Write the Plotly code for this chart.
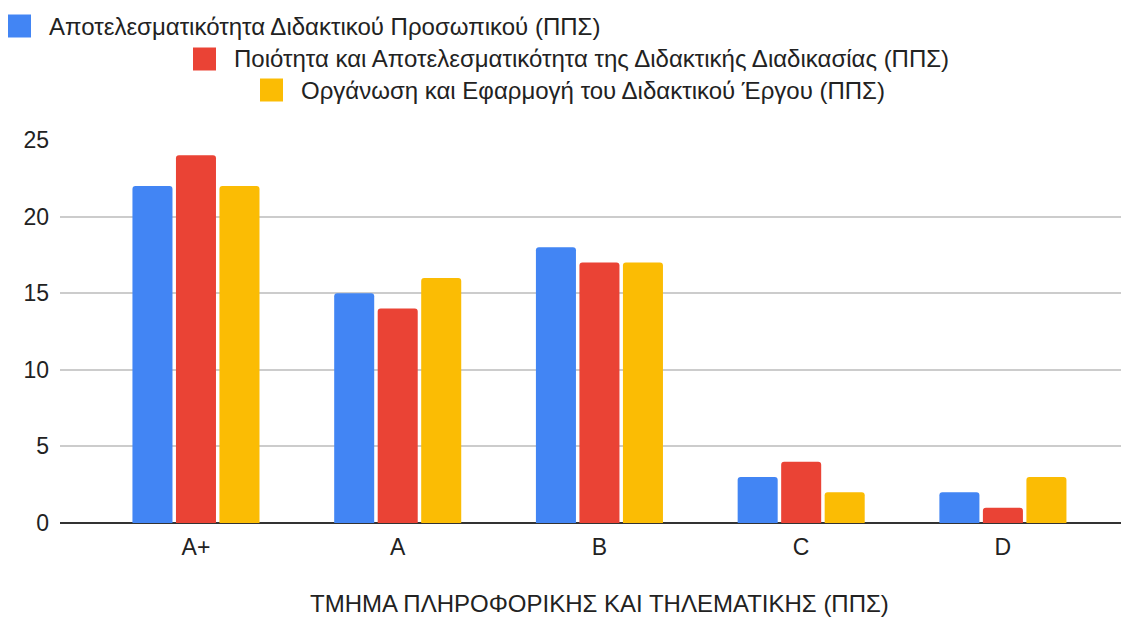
import plotly.graph_objects as go

categories = ["A+", "A", "B", "C", "D"]
series_names = [
    "Αποτελεσματικότητα Διδακτικού Προσωπικού (ΠΠΣ)",
    "Ποιότητα και Αποτελεσματικότητα της Διδακτικής Διαδικασίας (ΠΠΣ)",
    "Οργάνωση και Εφαρμογή του Διδακτικού Έργου (ΠΠΣ)",
]
blue_values = [22, 15, 18, 3, 2]
red_values = [24, 14, 17, 4, 1]
yellow_values = [22, 16, 17, 2, 3]
y_ticks = [0, 5, 10, 15, 20, 25]
x_title = "ΤΜΗΜΑ ΠΛΗΡΟΦΟΡΙΚΗΣ ΚΑΙ ΤΗΛΕΜΑΤΙΚΗΣ (ΠΠΣ)"

colors = ["#4285F4", "#EA4335", "#FBBC04"]
values = [blue_values, red_values, yellow_values]

# page body has an 8px margin, so the figure is 8px smaller than the window
W, H = 1121, 609
ML, MR, MT, MB = 52, 0, 132, 94
PW, PH = W - ML - MR, H - MT - MB
FONT = "Liberation Sans, Arial, sans-serif"
TXT = "#222222"

def px_x(px):
    return (px - ML) / PW

def px_y(py):
    return (H - MB - py) / PH

fig = go.Figure()
for name, vals, col in zip(series_names, values, colors):
    fig.add_trace(go.Bar(x=categories, y=vals, name=name, marker_color=col,
                         marker_line_width=0, showlegend=False))

# manual legend (Google-Sheets style wrapping): (square left px, centre y px)
legend_pos = [(0, 18), (185, 51), (252, 82)]
SQ = 23
for (lx, ly), name, col in zip(legend_pos, series_names, colors):
    fig.add_shape(type="rect", xref="paper", yref="paper",
                  x0=px_x(lx), x1=px_x(lx + SQ), y0=px_y(ly - SQ / 2), y1=px_y(ly + SQ / 2),
                  fillcolor=col, line_width=0)
    fig.add_annotation(xref="paper", yref="paper", x=px_x(lx + 39), y=px_y(ly),
                       xanchor="left", yanchor="middle", text=name, showarrow=False,
                       font=dict(family=FONT, size=24, color=TXT))

# x-axis title
fig.add_annotation(xref="x", yref="paper", x=categories[2], y=px_y(595),
                   xanchor="center", yanchor="middle", text=x_title, showarrow=False,
                   borderpad=0, font=dict(family=FONT, size=24, color=TXT))

fig.update_layout(
    width=W, height=H,
    margin=dict(l=ML, r=MR, t=MT, b=MB),
    paper_bgcolor="white", plot_bgcolor="white",
    barmode="group", bargap=0.353, bargroupgap=0.08, barcornerradius=3,
    font=dict(family=FONT, size=23, color=TXT),
)
fig.update_xaxes(
    range=[-0.674, 4.625], showgrid=False, zeroline=False, showline=False,
    ticks="", ticklabelstandoff=8, tickfont=dict(size=23, color=TXT),
)
fig.update_yaxes(
    range=[0, 25], tickvals=y_ticks, showgrid=True, gridcolor="#cccccc", gridwidth=1.5,
    zeroline=True, zerolinecolor="#333333", zerolinewidth=2, showline=False,
    ticks="", ticklabelstandoff=10, tickfont=dict(size=23, color=TXT),
)

fig.write_html("out.html")
